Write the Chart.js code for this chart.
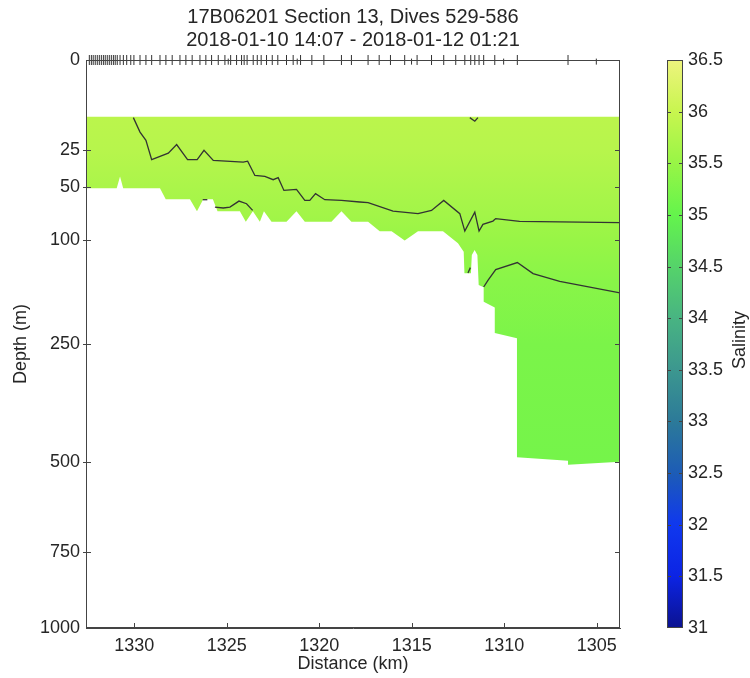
<!DOCTYPE html>
<html><head><meta charset="utf-8">
<script src="https://cdn.jsdelivr.net/npm/chart.js@4.4.1/dist/chart.umd.min.js"></script>
<style>
html,body{margin:0;padding:0;background:#fff;}
#wrap{position:relative;width:750px;height:678px;overflow:hidden;}
#main{position:absolute;left:0;top:0;}
#cbar{position:absolute;left:640px;top:0;}
</style></head><body>
<div id="wrap">
<canvas id="main" width="750" height="678"></canvas>
<canvas id="cbar" width="110" height="678"></canvas>
</div>
<script>
// ---------------- data ----------------
const titleLines = ['17B06201 Section 13, Dives 529-586', '2018-01-10 14:07 - 2018-01-12 01:21'];
const xAxisTitle = 'Distance (km)';
const yAxisTitle = 'Depth (m)';
const colorbarTitle = 'Salinity';

const distanceRange = [1303.74, 1332.61];
const distanceTicks = [1330, 1325, 1320, 1315, 1310, 1305];
const depthMax = 1000;
const depthTicks = [0, 25, 50, 100, 250, 500, 750, 1000];
const salinityRange = [31, 36.5];
const salinityTicks = [31, 31.5, 32, 32.5, 33, 33.5, 34, 34.5, 35, 35.5, 36, 36.5];
const salinityTickLabels = ['31', '31.5', '32', '32.5', '33', '33.5', '34', '34.5', '35', '35.5', '36', '36.5'];

// dive positions along the top axis (km)
const diveKm = [1332.43, 1332.32, 1332.22, 1332.11, 1332.00, 1331.89, 1331.78, 1331.67, 1331.57, 1331.46,
  1331.35, 1331.24, 1331.13, 1331.03, 1330.92, 1330.77, 1330.59, 1330.41, 1330.19, 1330.02,
  1329.69, 1329.37, 1329.06, 1328.61, 1328.29, 1327.95, 1327.53, 1327.21, 1326.87, 1326.45,
  1326.13, 1325.82, 1325.46, 1325.10, 1324.79, 1324.47, 1324.20, 1324.06, 1323.90, 1323.57,
  1323.35, 1323.14, 1322.85, 1322.54, 1322.24, 1321.77, 1321.41, 1321.01, 1320.40, 1319.75,
  1318.80, 1318.26, 1317.36, 1316.76, 1316.15, 1315.38, 1314.71, 1313.93, 1313.27, 1312.62,
  1312.13, 1311.81, 1311.59, 1311.36, 1311.11, 1310.51, 1309.29, 1306.55];
const diveKmShort = [1324.92, 1321.19, 1315.01, 1310.03, 1305.02];

// gridded salinity field: shallowest depth and lower edge of data (km, m)
const fieldTopDepth = 10;
const fieldBottomKm = [1332.61, 1330.95, 1330.77, 1330.60, 1328.61, 1328.30, 1326.99, 1326.61, 1326.27, 1325.75,
  1325.50, 1324.29, 1323.97, 1323.59, 1323.21, 1322.99, 1322.58, 1321.77, 1321.23, 1320.78,
  1319.34, 1318.80, 1318.26, 1317.36, 1316.73, 1316.09, 1315.38, 1314.66, 1313.31, 1312.50,
  1312.19, 1312.15, 1311.80, 1311.75, 1311.60, 1311.45, 1311.38, 1311.11, 1311.11, 1310.51,
  1310.51, 1309.31, 1309.31, 1306.55, 1306.55, 1303.74];
const fieldBottomDepth = [51, 51, 42, 51, 51, 60, 60, 71, 60, 60,
  71, 71, 81, 71, 81, 71, 81, 81, 71, 81,
  81, 71, 81, 81, 91, 91, 101, 91, 91, 104,
  114, 141, 141, 118, 112, 118, 157, 160, 181, 190,
  231, 240, 489, 498, 508, 500];

// salinity profile with depth (colour of the field)
const profileDepth = [10, 25, 50, 75, 100, 150, 250, 500];
const profileSalinity = [35.86, 35.82, 35.70, 35.60, 35.50, 35.36, 35.22, 35.16];

// contour lines (km, m)
const contour1Km = [1330.05, 1329.69, 1329.37, 1329.06, 1328.16, 1327.71, 1327.12, 1326.60, 1326.23, 1325.73,
  1324.11, 1323.87, 1323.48, 1322.94, 1322.49, 1322.22, 1321.91, 1321.23, 1320.78, 1320.51,
  1320.20, 1319.70, 1318.80, 1317.81, 1317.36, 1316.01, 1314.66, 1313.93, 1313.27, 1312.40,
  1312.13, 1311.59, 1311.36, 1311.15, 1310.61, 1310.46, 1309.17, 1303.74];
const contour1Depth = [10.3, 16.1, 20.0, 30.8, 26.9, 22.2, 30.8, 30.8, 25.3, 31.2,
  32.3, 31.7, 41.3, 42.0, 44.4, 42.9, 52.7, 51.9, 61.1, 61.1,
  55.4, 60.5, 61.1, 62.5, 63.1, 70.7, 73.2, 70.1, 61.1, 73.2,
  90.7, 71.7, 90.7, 83.7, 80.4, 78.0, 80.7, 82.0];
const contour2Km = [1326.30, 1326.05];
const contour2Depth = [60.5, 60.5];
const contour3Km = [1325.64, 1325.19, 1324.83, 1324.34, 1323.93, 1323.60];
const contour3Depth = [67.0, 67.9, 67.0, 61.7, 64.0, 70.1];
const contour4Km = [1311.96, 1311.83];
const contour4Depth = [140.6, 133.6];
const contour5Km = [1311.11, 1310.88, 1310.46, 1309.29, 1308.44, 1307.00, 1303.74];
const contour5Depth = [159.7, 150.4, 136.2, 127.2, 141.4, 151.8, 168.2];
const contour6Km = [1311.86, 1311.59, 1311.42];
const contour6Depth = [10.3, 11.6, 10.3];

// colormap of the colour bar
const cmapSalinity = [31, 31.5, 32, 32.5, 33, 33.5, 34, 34.5, 35, 35.5, 36, 36.5];
const cmapColors = ['#0b1290', '#0c24e4', '#1038ee', '#1d5cb6', '#2c7a99', '#3c978f', '#48b482', '#55d36a', '#64f44c', '#98f546', '#c8f54f', '#eef47e'];

// ---------------- helpers ----------------
const FONT = "'Liberation Sans', Arial, Helvetica, sans-serif";
const TXT = '#262626';
const AX = '#444444';
function hex2rgb(h){return [parseInt(h.slice(1,3),16),parseInt(h.slice(3,5),16),parseInt(h.slice(5,7),16)];}
function salColor(s){
  if (s <= cmapSalinity[0]) return cmapColors[0];
  for (let i = 1; i < cmapSalinity.length; i++) {
    if (s <= cmapSalinity[i]) {
      const t = (s - cmapSalinity[i-1]) / (cmapSalinity[i] - cmapSalinity[i-1]);
      const a = hex2rgb(cmapColors[i-1]), b = hex2rgb(cmapColors[i]);
      const c = a.map((v,k)=>Math.round(v + (b[k]-v)*t));
      return 'rgb(' + c.join(',') + ')';
    }
  }
  return cmapColors[cmapColors.length-1];
}
const sq = d => Math.sqrt(d);
const pts = (km, dep) => km.map((k,i)=>({x:k, y:sq(dep[i])}));

function contourDS(km, dep){
  return {type:'line', data: pts(km, dep), borderColor:'#333333', borderWidth:1.3, pointRadius:0, fill:false, tension:0};
}

const fieldGradient = (ctx) => {
  const chart = ctx.chart;
  const ys = chart.scales.y;
  if (!chart.chartArea || !ys) return salColor(profileSalinity[0]);
  const y0 = ys.getPixelForValue(sq(profileDepth[0]));
  const y1 = ys.getPixelForValue(sq(profileDepth[profileDepth.length-1]));
  const g = chart.ctx.createLinearGradient(0, y0, 0, y1);
  profileDepth.forEach((d,i)=>{
    const f = (ys.getPixelForValue(sq(d)) - y0) / (y1 - y0);
    g.addColorStop(Math.min(1, Math.max(0, f)), salColor(profileSalinity[i]));
  });
  return g;
};

const frameTicks = {
  id:'frameTicks',
  afterDatasetsDraw(chart){
    const {ctx, chartArea:a, scales:{x, y}} = chart;
    ctx.save();
    ctx.strokeStyle = AX; ctx.lineWidth = 1;
    ctx.strokeRect(a.left+0.5, a.top+0.5, a.right-a.left-1, a.bottom-a.top-1);
    ctx.beginPath();
    distanceTicks.forEach(v=>{
      const px = Math.round(x.getPixelForValue(v))+0.5;
      ctx.moveTo(px, a.bottom); ctx.lineTo(px, a.bottom-5);
    });
    depthTicks.forEach(d=>{
      if (d===0 || d===depthMax) return;
      const py = Math.round(y.getPixelForValue(sq(d)))+0.5;
      ctx.moveTo(a.left-3, py); ctx.lineTo(a.left+5, py);
      ctx.moveTo(a.right, py); ctx.lineTo(a.right-5, py);
    });
    ctx.stroke();
    ctx.restore();
  }
};

new Chart(document.getElementById('main'), {
  type:'line',
  data:{datasets:[
    {type:'scatter', data: diveKm.map(k=>({x:k, y:0})), pointStyle:'line', rotation:90, radius:5, borderColor:'#333333', borderWidth:1, clip:false, showLine:false},
    {type:'scatter', data: diveKmShort.map(k=>({x:k, y:0.09})), pointStyle:'line', rotation:90, radius:3, borderColor:'#333333', borderWidth:1, clip:false, showLine:false},
    contourDS(contour1Km, contour1Depth),
    contourDS(contour2Km, contour2Depth),
    contourDS(contour3Km, contour3Depth),
    contourDS(contour4Km, contour4Depth),
    contourDS(contour5Km, contour5Depth),
    contourDS(contour6Km, contour6Depth),
    {type:'line', data: pts(fieldBottomKm, fieldBottomDepth), fill:{value: sq(fieldTopDepth)}, backgroundColor: fieldGradient,
     borderColor:'rgba(0,0,0,0)', borderWidth:0, pointRadius:0, tension:0}
  ]},
  options:{
    responsive:false, animation:false, devicePixelRatio:1,
    layout:{padding:{left:0, right:130, top:0, bottom:0}},
    plugins:{
      legend:{display:false}, tooltip:{enabled:false},
      title:{display:true, fullSize:false, text:titleLines, color:TXT, font:{family:FONT, size:20, weight:'normal', lineHeight:1.15}, padding:{top:6, bottom:8}}
    },
    scales:{
      x:{type:'linear', min:distanceRange[0], max:distanceRange[1], reverse:true,
         afterBuildTicks(s){ s.ticks = distanceTicks.map(v=>({value:v})); },
         afterFit(s){ s.height = 50; },
         ticks:{color:TXT, font:{family:FONT, size:18}, padding:7, maxRotation:0, autoSkip:false, callback:(v)=>String(v)},
         grid:{display:false, drawTicks:false},
         border:{display:true, color:AX, width:1},
         title:{display:true, text:xAxisTitle, color:TXT, font:{family:FONT, size:18}, padding:{top:0, bottom:3}}
      },
      y:{type:'linear', min:0, max:sq(depthMax), reverse:true,
         afterBuildTicks(s){ s.ticks = depthTicks.map(d=>({value:sq(d)})); },
         afterFit(s){ s.width = 86; },
         ticks:{color:TXT, font:{family:FONT, size:18}, padding:6, autoSkip:false, callback:(v,i)=>String(depthTicks[i])},
         grid:{display:false, drawTicks:false},
         border:{display:true, color:AX, width:1},
         title:{display:true, text:yAxisTitle, color:TXT, font:{family:FONT, size:18}, padding:{top:10, bottom:0}}
      }
    }
  },
  plugins:[frameTicks]
});

// ---------------- colour bar ----------------
const cbarDecor = {
  id:'cbarDecor',
  afterDraw(chart){
    const {ctx, chartArea:a, scales:{y}} = chart;
    ctx.save();
    ctx.strokeStyle = AX; ctx.lineWidth = 1;
    ctx.beginPath();
    salinityTicks.forEach(v=>{
      if (v===salinityRange[0] || v===salinityRange[1]) return;
      const py = Math.round(y.getPixelForValue(v))+0.5;
      ctx.moveTo(a.left, py); ctx.lineTo(a.left+4, py);
      ctx.moveTo(a.right, py); ctx.lineTo(a.right-4, py);
    });
    ctx.stroke();
    ctx.strokeRect(a.left+0.5, a.top+0.5, a.right-a.left-1, a.bottom-a.top-1);
    ctx.fillStyle = TXT;
    ctx.font = '18px ' + FONT;
    ctx.textAlign = 'center'; ctx.textBaseline = 'middle';
    ctx.translate(100, 340);
    ctx.rotate(-Math.PI/2);
    ctx.fillText(colorbarTitle, 0, 0);
    ctx.restore();
  }
};
const cbarGradient = (ctx) => {
  const chart = ctx.chart;
  const ys = chart.scales.y;
  if (!chart.chartArea || !ys) return cmapColors[6];
  const y0 = ys.getPixelForValue(salinityRange[0]);
  const y1 = ys.getPixelForValue(salinityRange[1]);
  const g = chart.ctx.createLinearGradient(0, y0, 0, y1);
  cmapSalinity.forEach((s,i)=>{
    g.addColorStop((s - salinityRange[0])/(salinityRange[1]-salinityRange[0]), cmapColors[i]);
  });
  return g;
};
new Chart(document.getElementById('cbar'), {
  type:'bar',
  data:{labels:[colorbarTitle], datasets:[{data:[[salinityRange[0], salinityRange[1]]], backgroundColor:cbarGradient, borderWidth:0, barPercentage:1, categoryPercentage:1}]},
  options:{
    responsive:false, animation:false, devicePixelRatio:1,
    layout:{padding:{left:27, right:0, top:60, bottom:50}},
    plugins:{legend:{display:false}, tooltip:{enabled:false}},
    scales:{
      x:{display:false},
      y:{position:'right', min:salinityRange[0], max:salinityRange[1],
         afterBuildTicks(s){ s.ticks = salinityTicks.map(v=>({value:v})); },
         afterFit(s){ s.width = 67; },
         ticks:{color:TXT, font:{family:FONT, size:18}, padding:5, autoSkip:false, callback:(v,i)=>salinityTickLabels[i]},
         grid:{display:false, drawTicks:false},
         border:{display:false}
      }
    }
  },
  plugins:[cbarDecor]
});
</script>
</body></html>
